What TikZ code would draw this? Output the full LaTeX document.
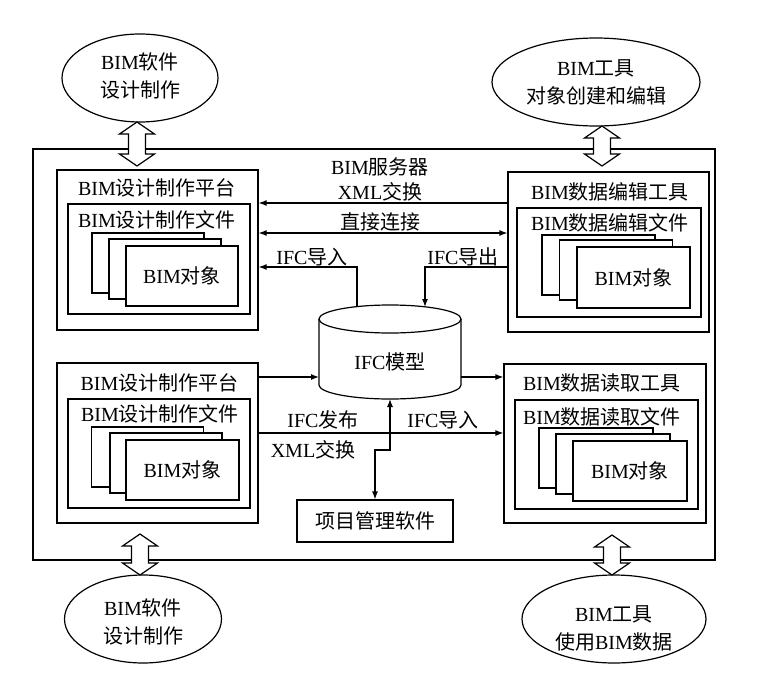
\documentclass[tikz,border=0pt]{standalone}
\usepackage{fontspec}
\setmainfont{Liberation Serif}
\newfontfamily\cjkf{Noto Sans CJK SC}
\newcommand\cj[1]{{\cjkf #1}}
\usetikzlibrary{arrows.meta,shapes.geometric}
\newcommand\hollowarr[3]{\draw[lw,fill=white,line join=miter] (#1,#2) -- (#1+17.5,#2+12) -- (#1+8.5,#2+12) -- (#1+8.5,#3-12) -- (#1+17.5,#3-12) -- (#1,#3) -- (#1-17.5,#3-12) -- (#1-8.5,#3-12) -- (#1-8.5,#2+12) -- (#1-17.5,#2+12) -- cycle;}
\begin{document}
\begin{tikzpicture}[x=1pt,y=-1pt,
  lw/.style={line width=1.2pt},
  every node/.style={font=\fontsize{20}{28}\selectfont, inner sep=0pt},
  rbox/.style={draw, lw, fill=white, minimum width=#1},
  pg/.style={draw, lw, fill=white, minimum width=112pt, minimum height=60pt},
  ell/.style={draw, lw, ellipse, fill=white},
  arr/.style={lw, -{Latex[length=8pt,width=6pt]}},
  darr/.style={lw, {Latex[length=8pt,width=6pt]}-{Latex[length=8pt,width=6pt]}},
  lbl/.style={align=center}]
\useasboundingbox (0,0) rectangle (760,685);
\fill[white] (0,0) rectangle (760,685);
% outer frame
\node[draw, lw, minimum width=682pt, minimum height=411pt] (outer) at (374,354.5) {};
% ellipses
\node[ell, minimum width=156pt, minimum height=88pt] (e1) at (140,78) {};
\node[lbl] (e1t) at (140,76) {BIM\cj{软件}\\\cj{设计制作}};
\node[ell, minimum width=208pt, minimum height=88pt] (e2) at (596,82) {};
\node[lbl] (e2t) at (596,82.5) {BIM\cj{工具}\\\cj{对象创建和编辑}};
\node[ell, minimum width=157pt, minimum height=88pt] (e3) at (143,619) {};
\node[lbl] (e3t) at (143,622) {BIM\cj{软件}\\\cj{设计制作}};
\node[ell, minimum width=184pt, minimum height=88pt] (e4) at (614,619) {};
\node[lbl] (e4t) at (614,628) {BIM\cj{工具}\\\cj{使用}BIM\cj{数据}};
% hollow double arrows
\hollowarr{137}{122}{166}
\hollowarr{602}{126}{166}
\hollowarr{140}{534}{575}
\hollowarr{612}{535}{575}
% top-left platform
\node[rbox=201pt, minimum height=160pt] (tlp) at (157.5,250) {};
\node (tlpt) at (157,188) {BIM\cj{设计制作平台}};
\node[rbox=182pt, minimum height=110pt] (tlf) at (159,259) {};
\node (tlft) at (157,220) {BIM\cj{设计制作文件}};
\node[pg] (tl1) at (148,263) {};
\node[pg] (tl2) at (165,269) {};
\node[pg, minimum height=60pt] (tl3) at (182,276) {BIM\cj{对象}};
% top-right tool
\node[rbox=201pt, minimum height=160pt] (trp) at (608.5,252) {};
\node (trpt) at (610,192) {BIM\cj{数据编辑工具}};
\node[rbox=184pt, minimum height=109pt] (trf) at (609,262.5) {};
\node (trft) at (610,223) {BIM\cj{数据编辑文件}};
\node[pg, minimum width=113pt] (tr1) at (598.5,265) {};
\node[pg, minimum width=113pt] (tr2) at (616,270) {};
\node[pg, minimum width=113pt, minimum height=61pt] (tr3) at (633.5,277.5) {BIM\cj{对象}};
% bottom-left platform
\node[rbox=201pt, minimum height=160pt] (blp) at (157.5,443) {};
\node (blpt) at (159.5,383) {BIM\cj{设计制作平台}};
\node[rbox=182pt, minimum height=109pt] (blf) at (159,453.5) {};
\node (blft) at (160,414) {BIM\cj{设计制作文件}};
\node[pg] (bl1) at (147.5,457) {};
\node[pg] (bl2) at (166,463) {};
\node[pg, minimum width=113pt] (bl3) at (182.5,470) {BIM\cj{对象}};
% bottom-right tool
\node[rbox=202pt, minimum height=159pt] (brp) at (605,443.5) {};
\node (brpt) at (602,383) {BIM\cj{数据读取工具}};
\node[rbox=183pt, minimum height=109pt] (brf) at (606.5,454.5) {};
\node (brft) at (602,417) {BIM\cj{数据读取文件}};
\node[pg, minimum width=114pt] (br1) at (596,458) {};
\node[pg, minimum width=114pt] (br2) at (613,464) {};
\node[pg, minimum width=114pt] (br3) at (630,471) {BIM\cj{对象}};
% cylinder
\draw[lw, fill=white] (319,319) -- (319,385) arc[start angle=180, end angle=360, x radius=71pt, y radius=14pt] -- (461,319);
\draw[lw] (390,319) ellipse [x radius=71pt, y radius=14pt];
\node (ifc) at (390,362) {IFC\cj{模型}};
\coordinate (cylTL) at (357,307);
\coordinate (cylTR) at (425,307);
\coordinate (cylL) at (319,377);
\coordinate (cylR) at (461,377);
\coordinate (cylB) at (390,399);
% project management
\node[draw, lw, minimum width=156pt, minimum height=42pt] (proj) at (375,521) {\cj{项目管理软件}};
% level coordinates
\coordinate (y203) at (0,203);
\coordinate (y233) at (0,233);
\coordinate (y267) at (0,267);
\coordinate (y377) at (0,377);
\coordinate (y433) at (0,433);
\coordinate (j1) at (390,450);
\coordinate (j2) at (375,450);
% connectors
\draw[arr] (trp.west |- y203) -- (tlp.east |- y203);
\draw[darr] (tlp.east |- y233) -- (trp.west |- y233);
\draw[arr] (cylTL) |- (tlp.east |- y267);
\draw[arr] (trp.west |- y267) -| (cylTR);
\draw[arr] (blp.east |- y377) -- (cylL);
\draw[arr] (cylR) -- (brp.west |- y377);
\draw[arr] (blp.east |- y433) -- (brp.west |- y433);
\draw[darr] (cylB) -- (j1) -- (j2) -- (proj.north);
% labels
\node (l1) at (380,167) {BIM\cj{服务器}};
\node (l2) at (380,192) {XML\cj{交换}};
\node (l3) at (380,222) {\cj{直接连接}};
\node (l4) at (312,257) {IFC\cj{导入}};
\node (l5) at (463,257) {IFC\cj{导出}};
\node (l6) at (323,420) {IFC\cj{发布}};
\node (l7) at (443,420) {IFC\cj{导入}};
\node (l8) at (313,450) {XML\cj{交换}};
\end{tikzpicture}
\end{document}
